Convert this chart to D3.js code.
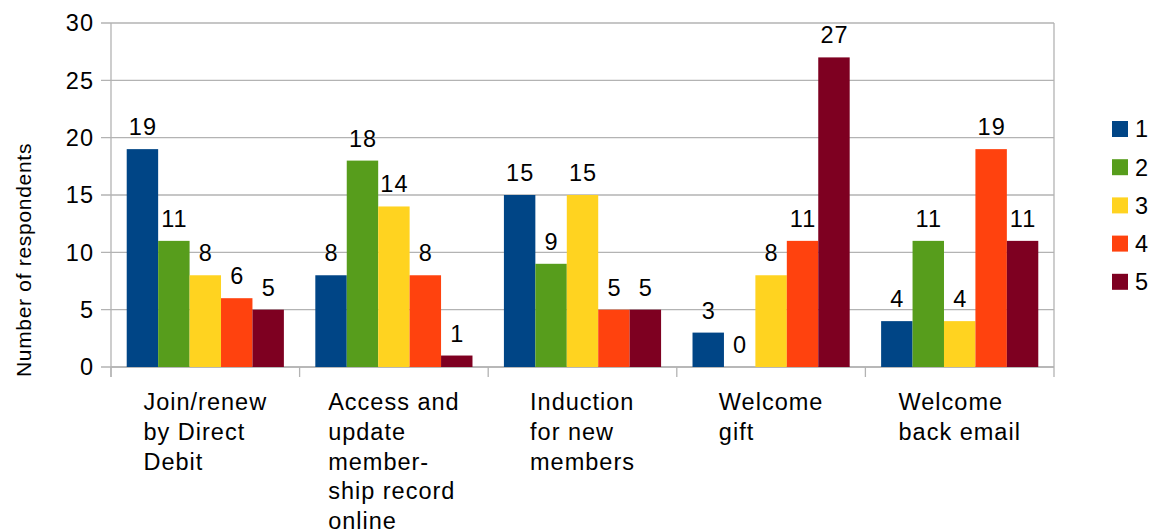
<!DOCTYPE html>
<html>
<head>
<meta charset="utf-8">
<script src="https://cdn.jsdelivr.net/npm/d3@7"></script>
<style>
  html, body { margin: 0; padding: 0; background: #fff; }
  svg text { font-family: "Liberation Sans", Arial, sans-serif; fill: #000; letter-spacing: 1px; }
</style>
</head>
<body>
<svg id="chart" width="1157" height="531"></svg>
<script>
// Survey responses per feature, one series per rating
const categories = [
  ["Join/renew", "by Direct", "Debit"],
  ["Access and", "update", "member-", "ship record", "online"],
  ["Induction", "for new", "members"],
  ["Welcome", "gift"],
  ["Welcome", "back email"]
];
const seriesNames = ["1", "2", "3", "4", "5"];
const rating1 = [19, 8, 15, 3, 4];
const rating2 = [11, 18, 9, 0, 11];
const rating3 = [8, 14, 15, 8, 4];
const rating4 = [6, 8, 5, 11, 19];
const rating5 = [5, 1, 5, 27, 11];
const yTicks = [0, 5, 10, 15, 20, 25, 30];
const colors = ["#004586", "#579d1c", "#ffd320", "#ff420e", "#7e0021"];

const series = [rating1, rating2, rating3, rating4, rating5];

const svg = d3.select("#chart");
const plotL = 111, plotR = 1054, plotT = 23, plotB = 367;
const gridColor = "#b3b3b3";
const fontSize = 23.5;

const x0 = d3.scaleBand()
  .domain(d3.range(categories.length))
  .range([plotL, plotR])
  .paddingInner(0)
  .paddingOuter(0);

const x1 = d3.scaleBand()
  .domain(d3.range(seriesNames.length))
  .range([0, x0.bandwidth()])
  .paddingOuter(0.5)
  .paddingInner(0);

const y = d3.scaleLinear().domain([0, 30]).range([plotB, plotT]);

// horizontal gridlines
svg.append("g")
  .selectAll("line")
  .data(yTicks)
  .join("line")
  .attr("x1", plotL - 10)
  .attr("x2", plotR)
  .attr("y1", d => y(d))
  .attr("y2", d => y(d))
  .attr("stroke", gridColor)
  .attr("stroke-width", 1.3);

// right wall edge
svg.append("line")
  .attr("x1", plotR).attr("x2", plotR)
  .attr("y1", plotT).attr("y2", plotB)
  .attr("stroke", gridColor).attr("stroke-width", 1.3);

// y axis line
svg.append("line")
  .attr("x1", plotL).attr("x2", plotL)
  .attr("y1", plotT).attr("y2", plotB + 10)
  .attr("stroke", gridColor).attr("stroke-width", 1.3);

// x axis line + category ticks
svg.append("line")
  .attr("x1", plotL).attr("x2", plotR)
  .attr("y1", plotB).attr("y2", plotB)
  .attr("stroke", gridColor).attr("stroke-width", 1.3);
svg.append("g")
  .selectAll("line")
  .data(d3.range(categories.length + 1))
  .join("line")
  .attr("x1", i => i < categories.length ? x0(i) : plotR)
  .attr("x2", i => i < categories.length ? x0(i) : plotR)
  .attr("y1", plotB)
  .attr("y2", plotB + 10)
  .attr("stroke", gridColor).attr("stroke-width", 1.3);

// y tick labels
svg.append("g")
  .selectAll("text")
  .data(yTicks)
  .join("text")
  .attr("x", 94)
  .attr("y", d => y(d))
  .attr("dy", "0.36em")
  .attr("text-anchor", "end")
  .attr("font-size", fontSize)
  .text(d => d);

// y axis title
svg.append("text")
  .attr("transform", `translate(31,260) rotate(-90)`)
  .attr("text-anchor", "middle")
  .attr("font-size", 21)
  .style("letter-spacing", "0.7px")
  .text("Number of respondents");

// bars
const groups = svg.append("g")
  .selectAll("g")
  .data(categories.map((c, i) => i))
  .join("g")
  .attr("transform", i => `translate(${x0(i)},0)`);

groups.selectAll("rect")
  .data(i => series.map((s, k) => ({ k, v: s[i] })))
  .join("rect")
  .attr("x", d => x1(d.k))
  .attr("width", x1.bandwidth())
  .attr("y", d => y(d.v))
  .attr("height", d => y(0) - y(d.v))
  .attr("fill", d => colors[d.k]);

groups.selectAll("text.val")
  .data(i => series.map((s, k) => ({ k, v: s[i] })))
  .join("text")
  .attr("class", "val")
  .attr("x", d => x1(d.k) + x1.bandwidth() / 2 + 0.5)
  .attr("y", d => y(d.v) - 14)
  .attr("text-anchor", "middle")
  .attr("font-size", fontSize)
  .text(d => d.v);

// category labels: left-aligned lines in a block centered on the category
svg.append("g")
  .selectAll("g")
  .data(categories.map((c, i) => ({ c, i })))
  .join("g")
  .each(function (d) {
    const g = d3.select(this);
    const t = g.append("text").attr("font-size", fontSize);
    d.c.forEach((line, j) => {
      t.append("tspan").attr("x", 0).attr("y", 410 + j * 29.8).text(line);
    });
    const w = t.node().getBBox().width;
    g.attr("transform", `translate(${x0(d.i) + x0.bandwidth() / 2 - w / 2},0)`);
  });

// legend
const legend = svg.append("g")
  .selectAll("g")
  .data(seriesNames.map((n, k) => ({ n, k })))
  .join("g")
  .attr("transform", d => `translate(1112,${129 + d.k * 38.2})`);
legend.append("rect")
  .attr("x", 0).attr("y", -8)
  .attr("width", 16).attr("height", 16)
  .attr("fill", d => colors[d.k]);
legend.append("text")
  .attr("x", 23)
  .attr("y", 0)
  .attr("dy", "0.36em")
  .attr("font-size", fontSize)
  .text(d => d.n);
</script>
</body>
</html>
